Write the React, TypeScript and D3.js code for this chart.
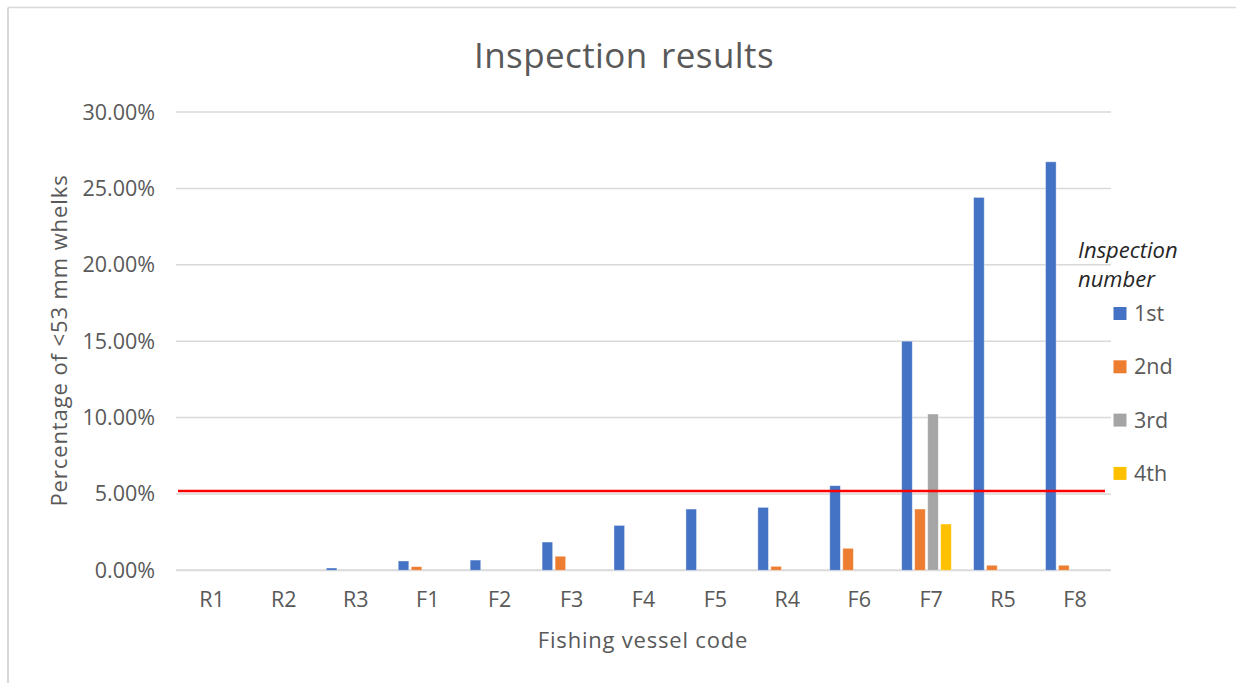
import React from "react";
import * as d3 from "d3";

const categories = ["R1", "R2", "R3", "F1", "F2", "F3", "F4", "F5", "R4", "F6", "F7", "R5", "F8"];
const seriesNames = ["1st", "2nd", "3rd", "4th"];
const seriesColors = ["#4472C4", "#ED7D31", "#A5A5A5", "#FFC000"];
const first = [0, 0, 0.0015, 0.0061, 0.0067, 0.0185, 0.0294, 0.0401, 0.0412, 0.0554, 0.150, 0.2441, 0.2674];
const second = [0, 0, 0, 0.0024, 0, 0.0092, 0, 0, 0.0026, 0.0144, 0.0401, 0.0033, 0.0033];
const third = [0, 0, 0, 0, 0, 0, 0, 0, 0, 0, 0.1023, 0, 0];
const fourth = [0, 0, 0, 0, 0, 0, 0, 0, 0, 0, 0.0303, 0, 0];
const seriesValues = [first, second, third, fourth];
const yTicks = [0, 0.05, 0.1, 0.15, 0.2, 0.25, 0.3];
const thresholdValue = 0.0519;

const W = 1236;
const H = 683;
const FONT = "'Open Sans', 'Noto Sans', sans-serif";

export default function App() {
  const x = d3.scaleBand<string>().domain(categories).range([176, 1111]).paddingInner(0).paddingOuter(0);
  const y = d3.scaleLinear().domain([0, 0.3]).range([570.3, 112]);
  const sub = d3.scaleBand<string>().domain(seriesNames).range([0, 52]).paddingInner(0);
  const fmt = d3.format(".2%");
  const barW = 10.6;

  return (
    <svg width={W} height={H} style={{ position: "absolute", left: 0, top: 0, display: "block", background: "#fff" }}>
      <rect x={0} y={0} width={W} height={H} fill="#fff" />
      {/* chart border */}
      <line x1={8} y1={7.5} x2={W} y2={7.5} stroke="#d9d9d9" strokeWidth={1.5} />
      <line x1={8} y1={7.5} x2={8} y2={H} stroke="#d9d9d9" strokeWidth={2} />

      {/* title */}
      <text x={624} y={68} textAnchor="middle" fontFamily={FONT} fontSize={35} wordSpacing={4} letterSpacing={0.4} fill="#595959">
        Inspection results
      </text>

      {/* gridlines and y tick labels */}
      {yTicks.map((t) => (
        <g key={t}>
          <line x1={176} x2={1111} y1={y(t)} y2={y(t)} stroke="#d9d9d9" strokeWidth={t === 0 ? 2 : 1.5} />
          <text x={155} y={y(t)} dy="0.35em" textAnchor="end" fontFamily={FONT} fontSize={21.5} fill="#595959">
            {fmt(t)}
          </text>
        </g>
      ))}

      {/* bars */}
      {seriesValues.map((vals, si) =>
        vals.map((v, ci) => {
          if (v <= 0) return null;
          const cx = (x(categories[ci]) as number) + x.bandwidth() / 2;
          const bx = cx - 29.5 + (sub(seriesNames[si]) as number);
          return (
            <rect
              key={si + "-" + ci}
              x={bx}
              y={y(v)}
              width={barW}
              height={y(0) - y(v)}
              fill={seriesColors[si]}
              stroke="#ffffff"
              strokeOpacity={0.5}
              strokeWidth={0.8}
            />
          );
        })
      )}

      {/* threshold line */}
      <line x1={178} x2={1105} y1={y(thresholdValue)} y2={y(thresholdValue)} stroke="#ff0000" strokeWidth={2.6} />

      {/* x tick labels */}
      {categories.map((c) => (
        <text
          key={c}
          x={(x(c) as number) + x.bandwidth() / 2}
          y={607}
          textAnchor="middle"
          fontFamily={FONT}
          fontSize={21.5}
          fill="#595959"
        >
          {c}
        </text>
      ))}

      {/* axis titles */}
      <text x={643} y={648} textAnchor="middle" fontFamily={FONT} fontSize={22} letterSpacing={0.8} fill="#595959">
        Fishing vessel code
      </text>
      <text
        transform={`translate(67,340.5) rotate(-90)`}
        textAnchor="middle"
        fontFamily={FONT}
        fontSize={22}
        letterSpacing={0.9}
        fill="#595959"
      >
        Percentage of &lt;53 mm whelks
      </text>

      {/* legend */}
      <text x={1078} y={258} fontFamily={FONT} fontSize={22} fontStyle="italic" fill="#262626">
        Inspection
      </text>
      <text x={1078} y={287} fontFamily={FONT} fontSize={22} fontStyle="italic" fill="#262626">
        number
      </text>
      {seriesNames.map((s, i) => {
        const cy = 313.5 + i * 53.3;
        return (
          <g key={s}>
            <rect x={1113.5} y={cy - 6.5} width={13} height={13} fill={seriesColors[i]} />
            <text x={1134} y={cy} dy="0.35em" fontFamily={FONT} fontSize={21.5} fill="#595959">
              {s}
            </text>
          </g>
        );
      })}
    </svg>
  );
}
